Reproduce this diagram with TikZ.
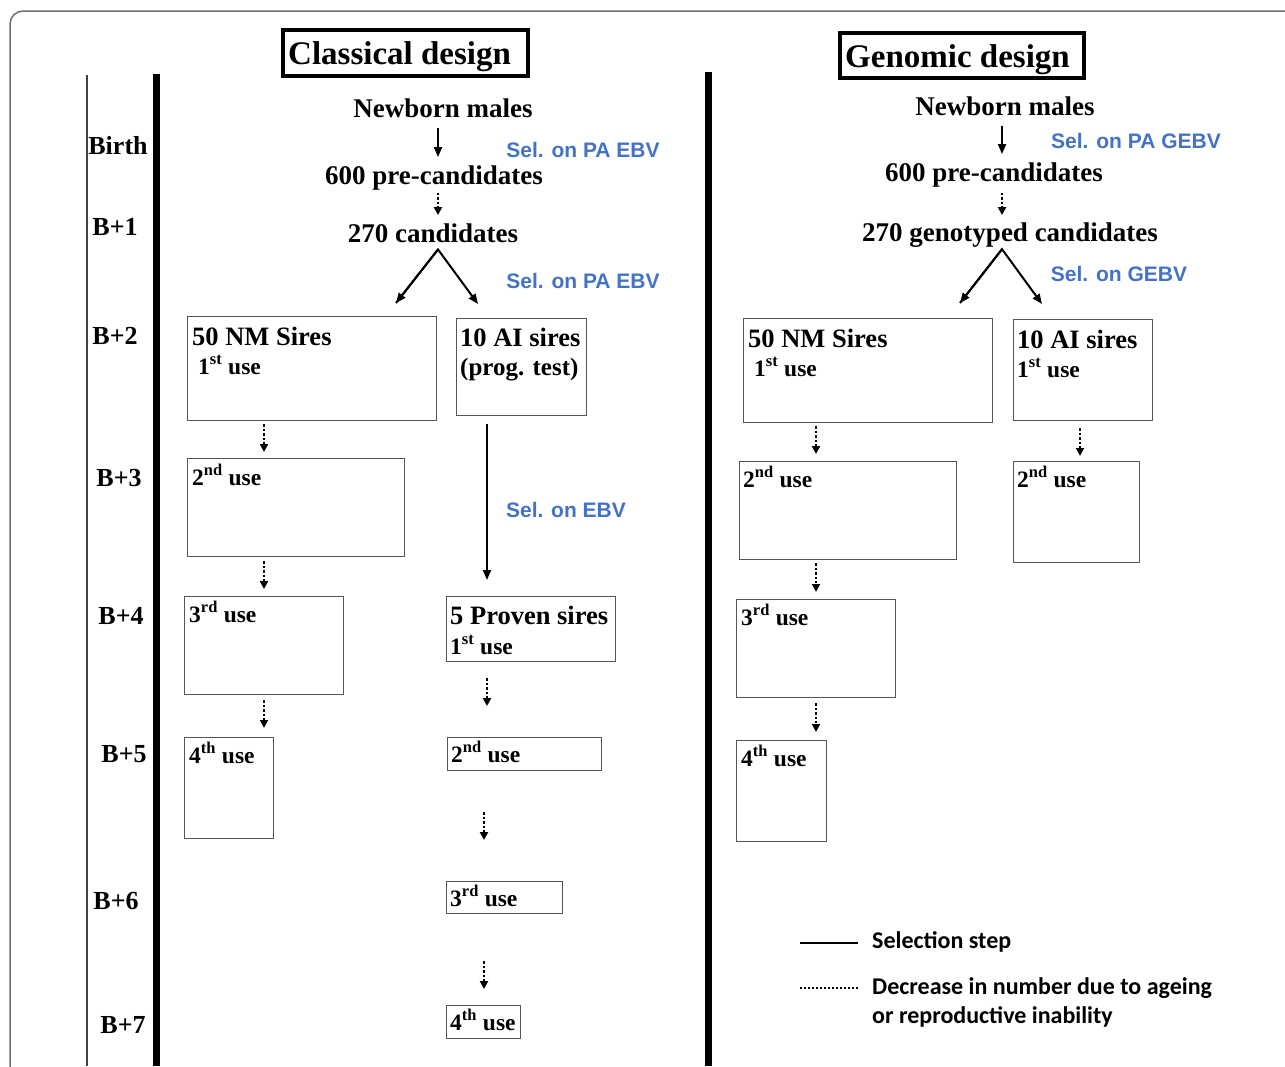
\documentclass[tikz,border=0pt]{standalone}
\usepackage{fontspec}
\setmainfont{Liberation Serif}
\newfontfamily\selfont{Liberation Sans}
\newfontfamily\legfont{Carlito}
\usetikzlibrary{arrows.meta,calc}
\definecolor{selblue}{HTML}{4472C4}
\definecolor{boxgray}{HTML}{555555}
\definecolor{framegray}{HTML}{6E6E6E}
\begin{document}
\begin{tikzpicture}[x=1pt,y=-1pt,
  hd/.style={font=\bfseries\fontsize{27}{30}\selectfont, inner sep=0pt, anchor=base},
  bx/.style={font=\bfseries\fontsize{26.5}{30}\selectfont, inner sep=0pt, anchor=base west},
  sm/.style={font=\bfseries\fontsize{23.5}{26}\selectfont, inner sep=0pt, anchor=base west},
  yr/.style={font=\bfseries\fontsize{26}{30}\selectfont, inner sep=0pt, anchor=base},
  sel/.style={font=\selfont\bfseries\fontsize{21}{24}\selectfont, text=selblue, inner sep=0pt, anchor=base},
  ttl/.style={font=\bfseries\fontsize{33}{36}\selectfont, inner sep=0pt, anchor=base west},
  tbox/.style={draw, line width=4pt, anchor=north west, inner sep=0pt},
  ubox/.style={draw=boxgray, line width=1.3pt, anchor=north west, inner sep=0pt},
  leg/.style={font=\legfont\bfseries\fontsize{24}{28}\selectfont, inner sep=0pt, anchor=base west},
  sarr/.style={line width=2pt, -{Triangle[length=10pt,width=8pt]}},
  darr/.style={line width=2.2pt, dash pattern=on 2.4pt off 2pt, -{Triangle[length=8pt,width=8pt]}},
]
\useasboundingbox (0,0) rectangle (1285,1066);
\fill[white] (0,0) rectangle (1285,1066);
% outer frame
\draw[framegray, line width=1.5pt, rounded corners=13pt] (10,1070) -- (10,11) -- (1290,11);
% time axis lines
\draw[black!75, line width=1.4pt] (87,75) -- (87,1066);
\draw[line width=7pt] (156,74) -- (156,1066);
\draw[line width=7pt] (708,72) -- (708,1066);

% titles
\node[tbox, minimum width=245pt, minimum height=46pt] (ctb) at (281,28) {};
\node[ttl] (ctt) at (288,64) {Classical design};
\node[tbox, minimum width=244pt, minimum height=45pt] (gtb) at (838,31) {};
\node[ttl] (gtt) at (845,67) {Genomic design};

% year labels
\node[yr] (yB) at (118,154) {Birth};
\node[yr] (y1) at (115,235) {B+1};
\node[yr] (y2) at (115,344) {B+2};
\node[yr] (y3) at (119,486) {B+3};
\node[yr] (y4) at (121,624) {B+4};
\node[yr] (y5) at (124,762) {B+5};
\node[yr] (y6) at (116,909) {B+6};
\node[yr] (y7) at (123,1033) {B+7};

% ---------------- classical design ----------------
\coordinate (cxL) at (438,0);
\node[hd] (nbA) at (443,117) {Newborn males};
\node[hd] (pcA) at (434,184) {600 pre-candidates};
\node[hd] (cdA) at (433,242) {270 candidates};
\node[sel] (s1) at (583,157) {Sel. on PA EBV};
\node[sel] (s2) at (583,288) {Sel. on PA EBV};
\node[sel] (s3) at (566,517) {Sel. on EBV};
\draw[sarr, shorten <=11pt, shorten >=8pt] (nbA.south -| cxL) -- (pcA.north -| cxL);
\draw[darr, shorten <=3pt, shorten >=8pt] (pcA.south -| cxL) -- (cdA.north -| cxL);
\coordinate (dLa) at (396,303);
\coordinate (dLb) at (478,304);
\draw[sarr, line join=miter] (dLa) -- ($(cdA.south -| cxL)+(0,7)$) -- (dLb);
\draw[sarr] ($(cdA.south -| cxL)+(0,7)$) -- (dLa);

\node[ubox, minimum width=249pt, minimum height=104pt] (nmA) at (187,316) {};
\node[bx] (nmAt) at (192,345) {50 NM Sires};
\node[sm] (nmAu) at (198,374) {1\textsuperscript{st} use};
\node[ubox, minimum width=130pt, minimum height=97pt] (aiA) at (456,318) {};
\node[bx] (aiAt) at (460,346) {10 AI sires};
\node[bx, font=\bfseries\fontsize{25}{28}\selectfont] (aiAu) at (460,375) {(prog. test)};
\node[ubox, minimum width=217pt, minimum height=98pt] (nmB) at (187,458) {};
\node[sm] (nmBt) at (192,485) {2\textsuperscript{nd} use};
\node[ubox, minimum width=159pt, minimum height=98pt] (nmC) at (184,596) {};
\node[sm] (nmCt) at (189,622) {3\textsuperscript{rd} use};
\node[ubox, minimum width=89pt, minimum height=101pt] (nmD) at (184,737) {};
\node[sm] (nmDt) at (189,763) {4\textsuperscript{th} use};

\node[ubox, minimum width=169pt, minimum height=65pt] (pvA) at (446,596) {};
\node[bx] (pvAt) at (450,624) {5 Proven sires};
\node[sm] (pvAu) at (450,654) {1\textsuperscript{st} use};
\node[ubox, minimum width=154pt, minimum height=33pt] (pvB) at (447,737) {};
\node[sm] (pvBt) at (451,762) {2\textsuperscript{nd} use};
\node[ubox, minimum width=116pt, minimum height=32pt] (pvC) at (446,881) {};
\node[sm] (pvCt) at (450,906) {3\textsuperscript{rd} use};
\node[ubox, minimum width=74pt, minimum height=33pt] (pvD) at (446,1005) {};
\node[sm] (pvDt) at (450,1030) {4\textsuperscript{th} use};

\coordinate (cA) at (264,0);
\coordinate (cP) at (487,0);
\coordinate (cQ) at (484,0);
\draw[darr, shorten <=3pt, shorten >=6pt] (nmA.south -| cA) -- (nmB.north -| cA);
\draw[darr, shorten <=4pt, shorten >=7pt] (nmB.south -| cA) -- (nmC.north -| cA);
\draw[darr, shorten <=5pt, shorten >=9pt] (nmC.south -| cA) -- (nmD.north -| cA);
\draw[sarr, shorten <=8pt, shorten >=16pt] (aiA.south -| cP) -- (pvA.north -| cP);
\draw[darr, shorten <=16pt, shorten >=31pt] (pvA.south -| cP) -- (pvB.north -| cP);
\draw[darr, shorten <=41pt, shorten >=41pt] (pvB.south -| cQ) -- (pvC.north -| cQ);
\draw[darr, shorten <=47pt, shorten >=16pt] (pvC.south -| cQ) -- (pvD.north -| cQ);

% ---------------- genomic design ----------------
\coordinate (cxR) at (1002,0);
\node[hd] (nbB) at (1005,115) {Newborn males};
\node[hd] (pcB) at (994,181) {600 pre-candidates};
\node[hd] (cdB) at (1010,241) {270 genotyped candidates};
\node[sel] (s4) at (1136,148) {Sel. on PA GEBV};
\node[sel] (s5) at (1119,281) {Sel. on GEBV};
\draw[sarr, shorten <=11pt, shorten >=8pt] (nbB.south -| cxR) -- (pcB.north -| cxR);
\draw[darr, shorten <=6pt, shorten >=7pt] (pcB.south -| cxR) -- (cdB.north -| cxR);
\coordinate (dRa) at (960,303);
\coordinate (dRb) at (1042,304);
\draw[sarr, line join=miter] (dRa) -- ($(cdB.south -| cxR)+(0,2)$) -- (dRb);
\draw[sarr] ($(cdB.south -| cxR)+(0,2)$) -- (dRa);

\node[ubox, minimum width=249pt, minimum height=104pt] (gnA) at (743,318) {};
\node[bx] (gnAt) at (748,347) {50 NM Sires};
\node[sm] (gnAu) at (754,376) {1\textsuperscript{st} use};
\node[ubox, minimum width=139pt, minimum height=101pt] (gaA) at (1013,319) {};
\node[bx] (gaAt) at (1017,348) {10 AI sires};
\node[sm] (gaAu) at (1017,377) {1\textsuperscript{st} use};
\node[ubox, minimum width=217pt, minimum height=98pt] (gnB) at (739,461) {};
\node[sm] (gnBt) at (743,487) {2\textsuperscript{nd} use};
\node[ubox, minimum width=126pt, minimum height=101pt] (gaB) at (1013,461) {};
\node[sm] (gaBt) at (1017,487) {2\textsuperscript{nd} use};
\node[ubox, minimum width=159pt, minimum height=98pt] (gnC) at (736,599) {};
\node[sm] (gnCt) at (741,625) {3\textsuperscript{rd} use};
\node[ubox, minimum width=90pt, minimum height=101pt] (gnD) at (736,740) {};
\node[sm] (gnDt) at (741,766) {4\textsuperscript{th} use};

\coordinate (cG) at (816,0);
\coordinate (cH) at (1080,0);
\draw[darr, shorten <=3pt, shorten >=7pt] (gnA.south -| cG) -- (gnB.north -| cG);
\draw[darr, shorten <=3pt, shorten >=7pt] (gnB.south -| cG) -- (gnC.north -| cG);
\draw[darr, shorten <=5pt, shorten >=8pt] (gnC.south -| cG) -- (gnD.north -| cG);
\draw[darr, shorten <=7pt, shorten >=5pt] (gaA.south -| cH) -- (gaB.north -| cH);

% ---------------- legend ----------------
\coordinate (l1a) at (800,943);
\coordinate (l1b) at (858,943);
\coordinate (l2a) at (800,988);
\coordinate (l2b) at (858,988);
\draw[line width=2.5pt] (l1a) -- (l1b);
\draw[line width=2pt, dash pattern=on 1.6pt off 2.4pt] (l2a) -- (l2b);
\node[leg] (lg1) at (872,948) {Selection step};
\node[leg] (lg2) at (872,994) {Decrease in number due to ageing};
\node[leg] (lg3) at (872,1023) {or reproductive inability};
\end{tikzpicture}
\end{document}
